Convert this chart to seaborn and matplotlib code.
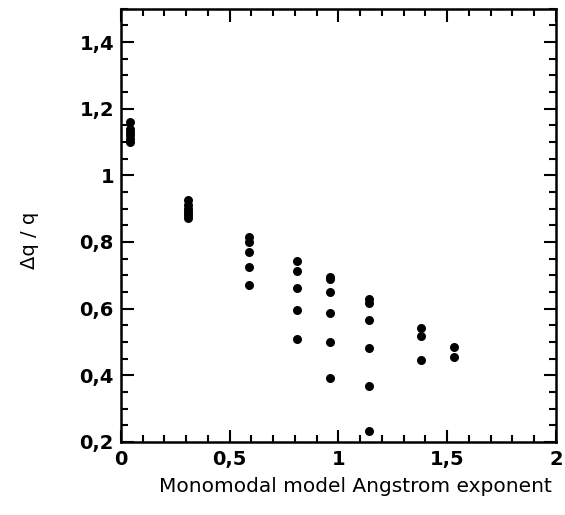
import matplotlib
matplotlib.use("Agg")
import matplotlib.pyplot as plt
import seaborn as sns
import pandas as pd
from matplotlib.ticker import MultipleLocator, FixedLocator

# Data
angstrom = ([0.04] * 6 + [0.31] * 6 + [0.59] * 5 + [0.81] * 5 +
            [0.96] * 6 + [1.14] * 6 + [1.38] * 3 + [1.53] * 2)
dq_over_q = [1.16, 1.14, 1.13, 1.12, 1.11, 1.10,
             0.925, 0.91, 0.90, 0.89, 0.88, 0.871,
             0.815, 0.80, 0.77, 0.725, 0.672,
             0.744, 0.713, 0.662, 0.596, 0.510,
             0.695, 0.688, 0.650, 0.587, 0.499, 0.393,
             0.630, 0.618, 0.566, 0.482, 0.368, 0.232,
             0.541, 0.517, 0.445,
             0.485, 0.455]

x_ticks = [0, 0.5, 1, 1.5, 2]
x_ticklabels = ["0", "0,5", "1", "1,5", "2"]
y_ticks = [0.2, 0.4, 0.6, 0.8, 1.0, 1.2, 1.4]
y_ticklabels = ["0,2", "0,4", "0,6", "0,8", "1", "1,2", "1,4"]

df = pd.DataFrame({"x": angstrom, "y": dq_over_q})

sns.set_theme(style="ticks")
plt.rcParams["font.family"] = ["DejaVu Sans"]
plt.rcParams["text.color"] = "black"
plt.rcParams["axes.labelcolor"] = "black"
plt.rcParams["xtick.color"] = "black"
plt.rcParams["ytick.color"] = "black"

fig = plt.figure(figsize=(5.65, 5.15), dpi=100)
ax = fig.add_axes([0.214, 0.142, 0.770, 0.841])

sns.scatterplot(data=df, x="x", y="y", ax=ax, color="black", s=42,
                edgecolor="black", linewidth=0, legend=False)

ax.set_xlim(0, 2)
ax.set_ylim(0.2, 1.5)
ax.xaxis.set_major_locator(FixedLocator(x_ticks))
ax.set_xticklabels(x_ticklabels)
ax.xaxis.set_minor_locator(MultipleLocator(0.1))
ax.yaxis.set_major_locator(FixedLocator(y_ticks))
ax.set_yticklabels(y_ticklabels)
ax.yaxis.set_minor_locator(MultipleLocator(0.05))

for s in ax.spines.values():
    s.set_visible(True)
    s.set_linewidth(1.8)
    s.set_color("black")

ax.tick_params(which="both", direction="in", top=True, right=True,
               color="black", width=1.5, labelcolor="black")
ax.tick_params(which="major", length=9, labelsize=14)
ax.tick_params(axis="x", which="major", pad=6)
ax.tick_params(axis="y", which="major", pad=5)
ax.tick_params(which="minor", length=5)
for lab in ax.get_xticklabels() + ax.get_yticklabels():
    lab.set_fontweight("bold")

ax.set_xlabel("Monomodal model Angstrom exponent", fontsize=14.5,
              va="center", color="black")
ax.xaxis.set_label_coords(0.540, -0.104)
ax.set_ylabel("Δq / q", fontsize=14, va="center", color="black")
ax.yaxis.set_label_coords(-0.209, 0.466)

fig.savefig("out.png", dpi=100)
